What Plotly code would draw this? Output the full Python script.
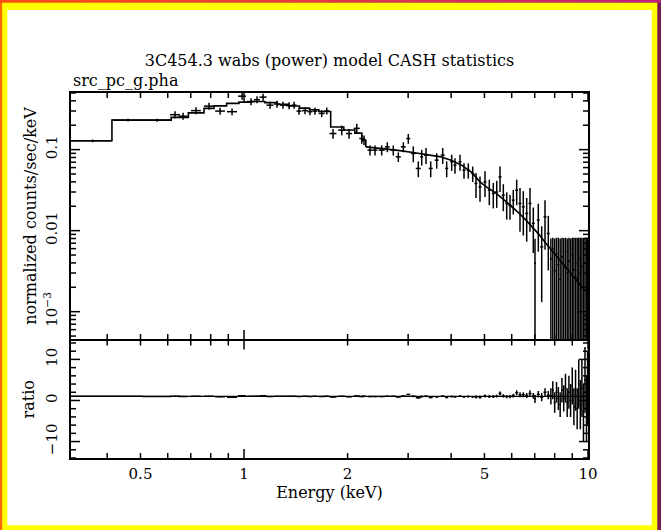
import math
import plotly.graph_objects as go

# ---------------- data ----------------
energy = [0.363, 0.460, 0.559, 0.630, 0.665, 0.725, 0.791, 0.852, 0.923, 0.987,
          1.048, 1.091, 1.136, 1.190, 1.247, 1.298, 1.352, 1.398, 1.445, 1.504,
          1.555, 1.608, 1.682, 1.740, 1.814, 1.923, 2.020, 2.127, 2.199, 2.233,
          2.324, 2.403, 2.513, 2.609, 2.716, 2.809, 2.905, 3.003, 3.105, 3.211,
          3.285, 3.381, 3.489, 3.632, 3.781, 3.883, 4.015, 4.105, 4.245, 4.360,
          4.487, 4.622, 4.725, 4.853, 5.018, 5.165, 5.305, 5.428, 5.549, 5.673,
          5.803, 5.933, 6.064, 6.204, 6.343, 6.485, 6.634, 6.782, 6.934, 7.013,
          7.170, 7.335, 7.499, 7.666,
          7.80, 7.90, 8.00, 8.10, 8.20, 8.30, 8.40, 8.50, 8.60, 8.70,
          8.80, 8.90, 9.00, 9.10, 9.20, 9.30, 9.40, 9.50, 9.60, 9.70,
          9.80, 9.90, 9.97]

energy_halfwidth = [0.050, 0.047, 0.053, 0.021, 0.020, 0.024, 0.026, 0.028, 0.031, 0.026,
                    0.028, 0.022, 0.027, 0.028, 0.025, 0.026, 0.027, 0.023, 0.024, 0.030,
                    0.026, 0.027, 0.034, 0.029, 0.042, 0.045, 0.041, 0.043, 0.037, 0.030,
                    0.039, 0.040, 0.050, 0.044, 0.045, 0.047, 0.049, 0.040, 0.052, 0.054,
                    0.033, 0.045, 0.047, 0.049, 0.051, 0.039, 0.040, 0.041, 0.043, 0.044,
                    0.045, 0.046, 0.047, 0.049, 0.050, 0.052, 0.053, 0.054, 0.056, 0.057,
                    0.058, 0.060, 0.061, 0.062, 0.064, 0.065, 0.067, 0.068, 0.070, 0.047,
                    0.072, 0.074, 0.075, 0.077,
                    0.05, 0.05, 0.05, 0.05, 0.05, 0.05, 0.05, 0.05, 0.05, 0.05,
                    0.05, 0.05, 0.05, 0.05, 0.05, 0.05, 0.05, 0.05, 0.05, 0.05,
                    0.05, 0.05, 0.03]

counts = [0.1285, 0.231, 0.231, 0.270, 0.259, 0.303, 0.344, 0.299, 0.294, 0.457,
          0.392, 0.414, 0.445, 0.354, 0.365, 0.354, 0.349, 0.354, 0.299, 0.303,
          0.294, 0.299, 0.280, 0.301, 0.158, 0.174, 0.158, 0.183, 0.137, 0.131,
          0.0986, 0.0986, 0.0986, 0.108, 0.0986, 0.0815, 0.108, 0.137, 0.0898, 0.0586,
          0.0815, 0.0855, 0.0586, 0.0742, 0.0855, 0.0586, 0.0707, 0.0644, 0.0707, 0.0558,
          0.0558, 0.0508, 0.0383, 0.0347, 0.0400, 0.0316, 0.0288, 0.0301, 0.0461, 0.0274,
          0.0217, 0.0206, 0.0238, 0.0316, 0.0217, 0.0197, 0.0163, 0.0217, 0.0123, 0.00397,
          0.0135, 0.00631, 0.0148, 0.00923,
          0.0045, 0.0060, 0.0032, 0.0052, 0.0038, 0.0025, 0.0048, 0.0035, 0.0055, 0.0030,
          0.0042, 0.0028, 0.0050, 0.0033, 0.0040, 0.0026, 0.0045, 0.0030, 0.0036, 0.0022,
          0.0040, 0.0028, 0.0034]

counts_err_plus = [0.005, 0.009, 0.010, 0.027, 0.026, 0.030, 0.034, 0.030, 0.029, 0.045,
                   0.039, 0.041, 0.044, 0.035, 0.036, 0.035, 0.035, 0.035, 0.030, 0.030,
                   0.029, 0.030, 0.028, 0.030, 0.022, 0.024, 0.022, 0.026, 0.019, 0.018,
                   0.014, 0.014, 0.014, 0.015, 0.014, 0.011, 0.015, 0.019, 0.020, 0.013,
                   0.018, 0.019, 0.013, 0.016, 0.019, 0.013, 0.016, 0.014, 0.016, 0.012,
                   0.012, 0.011, 0.013, 0.012, 0.014, 0.011, 0.010, 0.011, 0.016, 0.010,
                   0.008, 0.007, 0.008, 0.011, 0.012, 0.011, 0.009, 0.012, 0.007, 0.0040,
                   0.008, 0.0050, 0.009, 0.0060,
                   0.0035, 0.0022, 0.0048, 0.0030, 0.0044, 0.0055, 0.0034, 0.0046, 0.0027, 0.0050,
                   0.0040, 0.0052, 0.0032, 0.0049, 0.0042, 0.0056, 0.0037, 0.0052, 0.0046, 0.0058,
                   0.0042, 0.0054, 0.0048]

counts_err_minus = [0.005, 0.009, 0.010, 0.027, 0.026, 0.030, 0.034, 0.030, 0.029, 0.045,
                    0.039, 0.041, 0.044, 0.035, 0.036, 0.035, 0.035, 0.035, 0.030, 0.030,
                    0.029, 0.030, 0.028, 0.030, 0.022, 0.024, 0.022, 0.026, 0.019, 0.018,
                    0.014, 0.014, 0.014, 0.015, 0.014, 0.011, 0.015, 0.019, 0.020, 0.013,
                    0.018, 0.019, 0.013, 0.016, 0.019, 0.013, 0.016, 0.014, 0.016, 0.012,
                    0.012, 0.011, 0.013, 0.012, 0.014, 0.011, 0.010, 0.011, 0.016, 0.010,
                    0.008, 0.007, 0.008, 0.011, 0.012, 0.011, 0.009, 0.012, 0.007, 0.00397,
                    0.008, 0.0050, 0.009, 0.0060,
                    0.0045, 0.0060, 0.0032, 0.0052, 0.0038, 0.0025, 0.0048, 0.0035, 0.0055, 0.0030,
                    0.0042, 0.0028, 0.0050, 0.0033, 0.0040, 0.0026, 0.0045, 0.0030, 0.0036, 0.0022,
                    0.0040, 0.0028, 0.0034]

# folded model: left bin edges (keV) and model level
model_energy = [0.314, 0.413, 0.614, 0.689, 0.765, 0.818, 0.890, 0.967, 1.05, 1.15,
                1.25, 1.35, 1.45, 1.55, 1.65, 1.786, 1.95, 2.10, 2.20, 2.26,
                2.5, 2.8, 3.1, 3.4, 3.7, 4.0, 4.3, 4.6, 4.85, 5.1,
                5.4, 5.7, 6.0, 6.3, 6.6, 6.9, 7.2, 7.5, 7.8, 8.1,
                8.4, 8.7, 9.0, 9.3, 9.6, 10.0]
model_value = [0.1285, 0.231, 0.250, 0.284, 0.323, 0.347, 0.372, 0.386, 0.392, 0.380,
               0.362, 0.345, 0.325, 0.310, 0.295, 0.190, 0.175, 0.160, 0.130, 0.108,
               0.104, 0.098, 0.092, 0.087, 0.082, 0.074, 0.064, 0.052, 0.040, 0.034,
               0.029, 0.024, 0.020, 0.0165, 0.0135, 0.011, 0.009, 0.0072, 0.0059, 0.0049,
               0.0041, 0.0034, 0.0028, 0.0024, 0.0020, 0.0017]
step_count = 20  # histogram steps up to here, fine curve above

ratio = [1.00, 1.00, 0.95, 1.05, 0.95, 1.00, 1.05, 0.90, 0.80, 1.15,
         1.00, 1.05, 1.15, 0.95, 1.00, 1.00, 1.00, 1.05, 0.95, 1.00,
         0.95, 1.00, 0.95, 1.05, 0.85, 1.00, 0.90, 1.10, 0.95, 1.00,
         0.95, 0.95, 0.95, 1.05, 1.00, 0.85, 1.10, 1.45, 1.00, 0.65,
         0.95, 1.00, 0.75, 0.90, 1.05, 0.75, 0.95, 0.90, 1.05, 0.90,
         0.95, 0.90, 0.85, 0.80, 1.10, 0.95, 0.95, 1.05, 1.70, 1.10,
         0.95, 0.95, 1.20, 1.90, 1.40, 1.40, 1.20, 1.70, 1.10, 0.40,
         1.50, 0.80, 2.00, 1.30,
         1.0, 2.5, -0.5, 2.0, 0.5, -1.0, 2.5, 0.5, 3.0, -0.5,
         2.0, 0.0, 3.5, -1.5, 2.5, -2.0, 4.0, -1.0, 3.0, -3.0,
         5.0, -2.0, 3.0]

ratio_err = [0.04, 0.04, 0.04, 0.10, 0.10, 0.10, 0.10, 0.10, 0.10, 0.10,
             0.10, 0.10, 0.10, 0.10, 0.10, 0.10, 0.10, 0.10, 0.10, 0.10,
             0.10, 0.10, 0.10, 0.10, 0.14, 0.14, 0.14, 0.14, 0.14, 0.14,
             0.14, 0.14, 0.14, 0.14, 0.14, 0.14, 0.14, 0.20, 0.22, 0.22,
             0.22, 0.22, 0.22, 0.22, 0.22, 0.22, 0.22, 0.22, 0.22, 0.22,
             0.22, 0.22, 0.35, 0.35, 0.35, 0.35, 0.35, 0.35, 0.50, 0.40,
             0.40, 0.40, 0.45, 0.60, 0.60, 0.60, 0.60, 0.80, 0.70, 1.00,
             0.80, 1.00, 1.00, 1.00,
             2.0, 2.2, 2.5, 2.5, 2.8, 3.0, 3.0, 3.2, 3.5, 3.5,
             4.0, 4.0, 4.5, 4.5, 5.0, 5.0, 6.0, 6.0, 7.0, 7.0,
             8.0, 8.0, 9.0]

x_range = [0.314, 10.0]
counts_range = [4.6e-4, 0.5]
ratio_range = [-14.0, 14.6]

x_label_vals = [0.5, 1, 2, 5, 10]
x_major_ticks = [1, 10]
x_minor_ticks = [0.4, 0.5, 0.6, 0.7, 0.8, 0.9, 2, 3, 4, 5, 6, 7, 8, 9]
y_label_vals = [0.001, 0.01, 0.1]
y_label_text = ["10<sup>−3</sup>", "0.01", "0.1"]
y_minor_ticks = [5e-4, 6e-4, 7e-4, 8e-4, 9e-4,
                 2e-3, 3e-3, 4e-3, 5e-3, 6e-3, 7e-3, 8e-3, 9e-3,
                 0.02, 0.03, 0.04, 0.05, 0.06, 0.07, 0.08, 0.09,
                 0.2, 0.3, 0.4, 0.5]
ratio_label_vals = [-10, 0, 10]
ratio_minor_ticks = [-14, -12, -8, -6, -4, -2, 2, 4, 6, 8, 12, 14]

title_text = "3C454.3 wabs (power) model CASH statistics"
subtitle_text = "src_pc_g.pha"

# ---------------- figure ----------------
W, H = 661, 530
ML, MR, MT, MB = 71, 73, 93, 72
PW, PH = W - ML - MR, H - MT - MB
LINE_W = 1.5
upper_start = 119 / PH
lower_end = (119 - LINE_W) / PH  # so the two frame lines coincide
UPPER_PX = (1 - upper_start) * PH
LOWER_PX = lower_end * PH

FONT = "DejaVu Serif"
BLACK = "black"

fig = go.Figure()

fig.add_trace(go.Scatter(
    x=energy, y=counts, mode="markers", marker=dict(size=1, color=BLACK),
    error_x=dict(type="data", array=energy_halfwidth, symmetric=True,
                 width=0, thickness=1.5, color=BLACK),
    error_y=dict(type="data", array=counts_err_plus, arrayminus=counts_err_minus,
                 symmetric=False, width=0, thickness=1.5, color=BLACK),
    xaxis="x", yaxis="y", showlegend=False, hoverinfo="skip"))

fig.add_trace(go.Scatter(
    x=model_energy[:step_count], y=model_value[:step_count], mode="lines",
    line=dict(color=BLACK, width=1.6, shape="hv"),
    xaxis="x", yaxis="y", showlegend=False, hoverinfo="skip"))
fig.add_trace(go.Scatter(
    x=model_energy[step_count - 1:], y=model_value[step_count - 1:], mode="lines",
    line=dict(color=BLACK, width=1.6),
    xaxis="x", yaxis="y", showlegend=False, hoverinfo="skip"))

fig.add_trace(go.Scatter(
    x=energy, y=ratio, mode="markers", marker=dict(size=1, color=BLACK),
    error_x=dict(type="data", array=energy_halfwidth, symmetric=True,
                 width=0, thickness=1.5, color=BLACK),
    error_y=dict(type="data", array=ratio_err, symmetric=True,
                 width=0, thickness=1.5, color=BLACK),
    xaxis="x2", yaxis="y2", showlegend=False, hoverinfo="skip"))

tickfont = dict(family=FONT, size=15, color=BLACK)
common_x = dict(type="log", range=[math.log10(x_range[0]), math.log10(x_range[1])],
                tickmode="array", tickvals=x_label_vals, ticks="",
                showline=True, linewidth=LINE_W, linecolor=BLACK, mirror=True,
                showgrid=False, zeroline=False, tickfont=tickfont)

fig.update_layout(
    width=W, height=H,
    margin=dict(l=ML, r=MR, t=MT, b=MB, pad=0),
    paper_bgcolor="white", plot_bgcolor="white",
    font=dict(family=FONT, size=16, color=BLACK),
    title=dict(text=title_text, x=0.5, xref="paper", xanchor="center",
               y=1 - 60 / H, yref="container", yanchor="middle",
               font=dict(family=FONT, size=16, color=BLACK)),
    xaxis=dict(common_x, anchor="y", showticklabels=False, matches="x2"),
    xaxis2=dict(common_x, anchor="y2", showticklabels=True,
                ticktext=["0.5", "1", "2", "5", "10"], ticklabelstandoff=1,
                title=dict(text="Energy (keV)", standoff=4,
                           font=dict(family=FONT, size=16, color=BLACK))),
    yaxis=dict(domain=[upper_start, 1], anchor="x", type="log",
               range=[math.log10(counts_range[0]), math.log10(counts_range[1])],
               tickmode="array", tickvals=y_label_vals, ticktext=y_label_text,
               tickangle=-90, ticks="",
               showline=True, linewidth=LINE_W, linecolor=BLACK, mirror=True,
               showgrid=False, zeroline=False, tickfont=tickfont,
               ticklabelstandoff=6,
               title=dict(text="normalized counts/sec/keV", standoff=0,
                          font=dict(family=FONT, size=16, color=BLACK))),
    yaxis2=dict(domain=[0, lower_end], anchor="x2", range=ratio_range,
                tickmode="array", tickvals=ratio_label_vals, tickangle=-90, ticks="",
                showline=True, linewidth=LINE_W, linecolor=BLACK, mirror=True,
                showgrid=False, zeroline=False, tickfont=tickfont,
                ticklabelstandoff=6,
                title=dict(text="ratio", standoff=5,
                           font=dict(family=FONT, size=16, color=BLACK))),
)

fig.add_annotation(text=subtitle_text, xref="paper", yref="paper",
                   x=0, y=1 + (MT - 80) / PH, xanchor="left", yanchor="middle",
                   showarrow=False, font=dict(family=FONT, size=16, color=BLACK))

# reference line at ratio = 1
fig.add_shape(type="line", xref="x2 domain", yref="y2", x0=0, x1=1, y0=1, y1=1,
              line=dict(color=BLACK, width=1.3))

# ---------------- tick marks on all four sides (from the axis scales) ----------------
lx0, lx1 = math.log10(x_range[0]), math.log10(x_range[1])
ly0, ly1 = math.log10(counts_range[0]), math.log10(counts_range[1])

def xfrac(v):
    return (math.log10(v) - lx0) / (lx1 - lx0)

def yfrac(v):
    return (math.log10(v) - ly0) / (ly1 - ly0)

def rfrac(v):
    return (v - ratio_range[0]) / (ratio_range[1] - ratio_range[0])

TICK = dict(color=BLACK, width=1.5)

def seg(xref, yref, x0, x1, y0, y1):
    fig.add_shape(type="line", xref=xref, yref=yref, x0=x0, x1=x1, y0=y0, y1=y1,
                  line=TICK, layer="above")

for vals, length in ((x_major_ticks, 9), (x_minor_ticks, 5)):
    for v in vals:
        xf = xfrac(v)
        du = length / UPPER_PX
        dl = length / LOWER_PX
        seg("x domain", "y domain", xf, xf, 0, du)
        seg("x domain", "y domain", xf, xf, 1 - du, 1)
        seg("x2 domain", "y2 domain", xf, xf, 0, dl)
        seg("x2 domain", "y2 domain", xf, xf, 1 - dl, 1)

def yticks(fracs, xref, yref, length):
    dx = length / PW
    for f in fracs:
        seg(xref, yref, 0, dx, f, f)
        seg(xref, yref, 1 - dx, 1, f, f)

yticks([yfrac(v) for v in y_label_vals], "x domain", "y domain", 9)
yticks([yfrac(v) for v in y_minor_ticks], "x domain", "y domain", 5)
yticks([rfrac(v) for v in ratio_label_vals], "x2 domain", "y2 domain", 9)
yticks([rfrac(v) for v in ratio_minor_ticks], "x2 domain", "y2 domain", 5)

# ---------------- page frame (decoration, drawn above) ----------------
def px_x(p):
    return (p - ML) / PW

def px_y(p):
    return (H - MB - p) / PH

def band(x0, x1, y0, y1, color):
    fig.add_shape(type="rect", xref="paper", yref="paper", layer="above",
                  x0=px_x(x0), x1=px_x(x1), y0=px_y(y1), y1=px_y(y0),
                  fillcolor=color, line=dict(width=0))

YEL = "#ffff00"
band(-1, 662, -1, 10, YEL)
band(-1, 662, 525.3, 531, YEL)
band(-1, 7.3, -1, 531, YEL)
band(651.7, 662, -1, 531, YEL)
band(-1, 2.2, -1, 531, "#ff6a00")
band(657.3, 662, -1, 531, "#7c1850")
c0, c1 = (255, 80, 20), (190, 35, 120)
nseg = 16
for i in range(nseg):
    t = i / (nseg - 1)
    col = "rgb(%d,%d,%d)" % tuple(round(a + (b - a) * t) for a, b in zip(c0, c1))
    band(-1 + i * 663 / nseg, -1 + (i + 1) * 663 / nseg + 0.5, -1, 2.8, col)

fig.write_html("out.html")
